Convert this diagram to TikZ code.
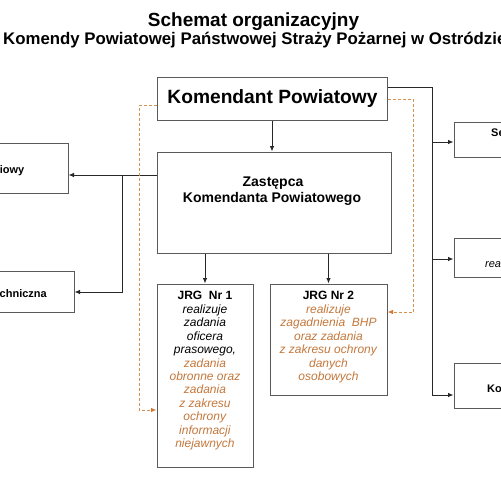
\documentclass[tikz,border=0pt]{standalone}
\usepackage{fontspec}
\setmainfont{Liberation Sans}
\usetikzlibrary{arrows.meta,calc}
\definecolor{boxline}{RGB}{90,90,90}
\definecolor{conn}{RGB}{40,40,40}
\definecolor{dashc}{RGB}{212,145,80}
\definecolor{orng}{RGB}{215,120,50}
\definecolor{otext}{RGB}{196,120,60}
\begin{document}
\begin{tikzpicture}[x=1pt,y=-1pt,
  box/.style={draw=boxline,line width=1pt,inner sep=0pt},
  lbl/.style={inner sep=0pt},
  arr/.style={draw=conn,line width=0.9pt,-{Latex[length=5.5pt,width=4.5pt]}},
  dsh/.style={draw=dashc,line width=1pt,dash pattern=on 3pt off 2pt,-{Latex[length=5.5pt,width=4.5pt,color=orng]}},
  jrgtext/.style={inner sep=0pt,align=center,font=\fontsize{12}{13.45}\selectfont,anchor=north},
]
\useasboundingbox (0,0) rectangle (501,501);
\fill[white] (0,0) rectangle (501,501);

% titles
\node[lbl,anchor=base,font=\bfseries\fontsize{19}{22}\selectfont] (t1) at (253.5,26) {Schemat organizacyjny};
\node[lbl,anchor=base west,font=\bfseries\fontsize{16.8}{20}\selectfont] (t2) at (3,44) {Komendy Powiatowej Państwowej Straży Pożarnej w Ostródzie};

% boxes
\node[box,minimum width=230pt,minimum height=43pt] (kom) at (272,98.5) {};
\node[box,minimum width=234pt,minimum height=101pt] (zas) at (274,202.5) {};
\node[box,minimum width=96pt,minimum height=183pt] (jrg1) at (205,375.5) {};
\node[box,minimum width=117pt,minimum height=111pt] (jrg2) at (328.5,339.5) {};
\node[box,minimum width=78pt,minimum height=50pt] (l1) at (29,168) {};
\node[box,minimum width=84pt,minimum height=41pt] (l2) at (32,291.5) {};
\node[box,minimum width=66pt,minimum height=35pt] (rA) at (487,139.5) {};
\node[box,minimum width=66pt,minimum height=39pt] (rB) at (487,257.5) {};
\node[box,minimum width=66pt,minimum height=45pt] (rC) at (487,385.5) {};

% box texts
\node[lbl,anchor=base,font=\bfseries\fontsize{19.2}{23}\selectfont] (komt) at (272.5,103) {Komendant Powiatowy};
\node[lbl,anchor=base,font=\bfseries\fontsize{14}{16}\selectfont] (zt1) at (273,186) {Zastępca};
\node[lbl,anchor=base,font=\bfseries\fontsize{14}{16}\selectfont] (zt2) at (272,202) {Komendanta Powiatowego};
\node[jrgtext] (j1t) at (205,291.2) {\textbf{JRG\ \ Nr 1}\\
  \textit{realizuje}\\ \textit{zadania}\\ \textit{oficera}\\ \textit{prasowego,}\\
  \textcolor{otext}{\textit{zadania}}\\ \textcolor{otext}{\textit{obronne oraz}}\\
  \textcolor{otext}{\textit{zadania}}\\ \textcolor{otext}{\textit{z zakresu}}\\
  \textcolor{otext}{\textit{ochrony}}\\ \textcolor{otext}{\textit{informacji}}\\
  \textcolor{otext}{\textit{niejawnych}}};
\node[jrgtext] (j2t) at (328.5,291.2) {\textbf{JRG Nr 2}\\
  \textcolor{otext}{\textit{realizuje}}\\ \textcolor{otext}{\textit{zagadnienia\ \ BHP}}\\
  \textcolor{otext}{\textit{oraz zadania}}\\ \textcolor{otext}{\textit{z zakresu ochrony}}\\
  \textcolor{otext}{\textit{danych}}\\ \textcolor{otext}{\textit{osobowych}}};
\node[lbl,anchor=base east,font=\bfseries\fontsize{11}{13}\selectfont] (l1t) at (24.5,173) {iowy};
\node[lbl,anchor=base east,font=\bfseries\fontsize{11}{13}\selectfont] (l2t) at (47,297) {chniczna};
\node[lbl,anchor=base west,font=\bfseries\fontsize{11}{13}\selectfont] (rAt) at (491,136) {Se};
\node[lbl,anchor=base west,font=\itshape\fontsize{11}{13}\selectfont] (rBt) at (485,267) {rea};
\node[lbl,anchor=base west,font=\bfseries\fontsize{11}{13}\selectfont] (rCt) at (487,392) {Ko};

% junction coordinates
\coordinate (jL1) at (122,175);
\coordinate (jL2) at (122,292);
\coordinate (jR0) at (432,87);
\coordinate (jRA) at (432,142);
\coordinate (jRB) at (432,259);
\coordinate (jRC) at (432,395);
\coordinate (dL1) at (139,105);
\coordinate (dL2) at (139,410);
\coordinate (dR1) at (413,99);
\coordinate (dR2) at (413,312);

% solid connectors
\draw[arr] (kom.south) -- (kom.south |- zas.north);
\draw[arr] (zas.south -| jrg1.north) -- (jrg1.north);
\draw[arr] (zas.south -| jrg2.north) -- (jrg2.north);
\draw[arr] (zas.west |- jL1) -- (l1.east |- jL1);
\draw[arr] (jL1) -- (jL2) -- (l2.east |- jL2);
\draw[arr] (kom.east |- jR0) -- (jR0) -- (jRC) -- (rC.west |- jRC);
\draw[arr] (jRA) -- (rA.west |- jRA);
\draw[arr] (jRB) -- (rB.west |- jRB);

% dashed connectors
\draw[dsh] (kom.west |- dL1) -- (dL1) -- (dL2) -- (jrg1.west |- dL2);
\draw[dsh] (kom.east |- dR1) -- (dR1) -- (dR2) -- (jrg2.east |- dR2);
\end{tikzpicture}
\end{document}
